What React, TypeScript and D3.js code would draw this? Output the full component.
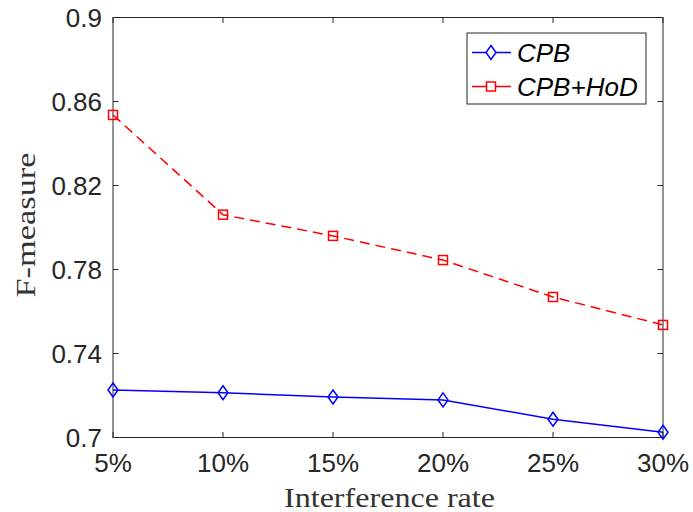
import React from "react";
import * as d3 from "d3";

const categories = ["5%", "10%", "15%", "20%", "25%", "30%"];
const cpb = [0.7226, 0.7213, 0.7193, 0.7179, 0.7087, 0.7025];
const cpbHod = [0.8536, 0.8061, 0.796, 0.7845, 0.7669, 0.7536];
const yTicks = [0.7, 0.74, 0.78, 0.82, 0.86, 0.9];
const yTickLabels = ["0.7", "0.74", "0.78", "0.82", "0.86", "0.9"];
const seriesNames = ["CPB", "CPB+HoD"];

const W = 693, H = 512;
const L = 113, R = 663, T = 17.5, B = 437.5;

export default function App() {
  const x = d3.scalePoint<string>().domain(categories).range([L, R]);
  const y = d3.scaleLinear().domain([0.7, 0.9]).range([B, T]);
  const line = d3.line<number>().x((_, i) => x(categories[i])!).y((d) => y(d));
  const axisColor = "#262626";
  const tickLen = 5.5;
  const diamond = (cx: number, cy: number) =>
    `M${cx},${cy - 7}L${cx + 5},${cy}L${cx},${cy + 7}L${cx - 5},${cy}Z`;

  return (
    <svg width={W} height={H} style={{ position: "absolute", left: 0, top: 0, background: "#fff" }}>
      <rect x={0} y={0} width={W} height={H} fill="#fff" />
      {categories.map((c) => (
        <g key={c}>
          <line x1={x(c)} x2={x(c)} y1={B} y2={B - tickLen} stroke={axisColor} strokeWidth={1} />
          <line x1={x(c)} x2={x(c)} y1={T} y2={T + tickLen} stroke={axisColor} strokeWidth={1} />
          <text x={x(c)} y={472} textAnchor="middle" fontFamily="Liberation Sans, Arial, sans-serif" fontSize={26} fill="#262626">{c}</text>
        </g>
      ))}
      {yTicks.map((t, i) => (
        <g key={t}>
          <line x1={L} x2={L + tickLen} y1={y(t)} y2={y(t)} stroke={axisColor} strokeWidth={1} />
          <line x1={R} x2={R - tickLen} y1={y(t)} y2={y(t)} stroke={axisColor} strokeWidth={1} />
          <text x={102} y={y(t) + 9.5} textAnchor="end" fontFamily="Liberation Sans, Arial, sans-serif" fontSize={26} fill="#262626">{yTickLabels[i]}</text>
        </g>
      ))}
      <rect x={L} y={T} width={R - L} height={B - T} fill="none" stroke={axisColor} strokeWidth={1} />

      <path d={line(cpbHod)!} fill="none" stroke="#ff0000" strokeWidth={1.5} strokeDasharray="10,6" />
      {cpbHod.map((v, i) => (
        <rect key={i} x={x(categories[i])! - 4.5} y={y(v) - 4.5} width={9} height={9} fill="none" stroke="#ff0000" strokeWidth={1.5} />
      ))}
      <path d={line(cpb)!} fill="none" stroke="#0000ff" strokeWidth={1.5} />
      {cpb.map((v, i) => (
        <path key={i} d={diamond(x(categories[i])!, y(v))} fill="none" stroke="#0000ff" strokeWidth={1.5} />
      ))}

      <rect x={467} y={33} width={179} height={71} fill="#fff" stroke={axisColor} strokeWidth={1} />
      <line x1={472} x2={511} y1={52.5} y2={52.5} stroke="#0000ff" strokeWidth={1.5} />
      <path d={diamond(491, 52.5)} fill="#fff" stroke="#0000ff" strokeWidth={1.5} />
      <text x={517} y={61.5} fontFamily="Liberation Sans, Arial, sans-serif" fontStyle="italic" fontSize={26} fill="#000">{seriesNames[0]}</text>
      <line x1={472} x2={511} y1={86.5} y2={86.5} stroke="#ff0000" strokeWidth={1.5} />
      <rect x={486.5} y={82} width={9} height={9} fill="#fff" stroke="#ff0000" strokeWidth={1.5} />
      <text x={517} y={95.5} fontFamily="Liberation Sans, Arial, sans-serif" fontStyle="italic" fontSize={26} fill="#000">{seriesNames[1]}</text>

      <text x={389.5} y={507} textAnchor="middle" fontFamily="Liberation Serif, Times New Roman, serif" fontSize={27} fill="#333" textLength={211} lengthAdjust="spacingAndGlyphs">Interference rate</text>
      <text transform={`translate(35,225) rotate(-90)`} textAnchor="middle" fontFamily="Liberation Serif, Times New Roman, serif" fontSize={27} fill="#333" textLength={145} lengthAdjust="spacingAndGlyphs">F-measure</text>
    </svg>
  );
}
